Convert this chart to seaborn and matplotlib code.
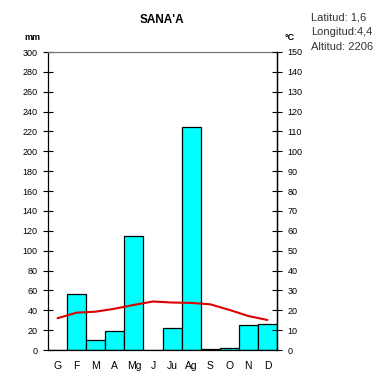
import matplotlib
matplotlib.use("Agg")
import matplotlib.pyplot as plt
import seaborn as sns
import pandas as pd

months = ["G", "F", "M", "A", "Mg", "J", "Ju", "Ag", "S", "O", "N", "D"]
precip_mm = [0, 56, 10, 19, 115, 0, 22, 224, 1, 2, 25, 26]
temp_c = [16, 18.8, 19.3, 20.8, 22.7, 24.4, 23.9, 23.7, 23, 20.2, 17.1, 15.1]
mm_ticks = list(range(0, 301, 20))
c_ticks = list(range(0, 151, 10))

sns.set_theme(style="white")
plt.rcParams["font.family"] = ["Liberation Sans", "DejaVu Sans"]
plt.rcParams["text.color"] = "black"
plt.rcParams["xtick.color"] = "black"
plt.rcParams["ytick.color"] = "black"
plt.rcParams["axes.labelcolor"] = "black"

df = pd.DataFrame({"mes": months, "mm": precip_mm, "t": temp_c, "pos": range(12)})

fig = plt.figure(figsize=(3.8, 3.82), dpi=100)
ax = fig.add_axes([48/380, 32/382, 229/380, 298/382])
sns.barplot(data=df, x="mes", y="mm", color="#00FFFF", edgecolor="black",
            linewidth=0.9, width=1.0, saturation=1, ax=ax)
ax.set_xlim(-0.5, 11.5)
ax.set_ylim(0, 300)
ax.set_yticks(mm_ticks)
ax.set_yticklabels([str(v) for v in mm_ticks], fontsize=6.5)
ax.set_xlabel("")
ax.set_ylabel("")
ax.set_xticks([i - 0.5 for i in range(13)])
ax.set_xticklabels([])
ax.set_xticks(range(12), minor=True)
ax.set_xticklabels(months, minor=True, fontsize=7.5)
ax.tick_params(axis="x", which="major", direction="out", length=4, width=0.8, color="black")
ax.tick_params(axis="x", which="minor", length=0, pad=8)
ax.tick_params(axis="y", direction="inout", length=7, width=0.8, color="black", pad=4)
for s in ax.spines.values():
    s.set_color("black")
    s.set_linewidth(0.9)
ax.spines["top"].set_color("#777777")

ax2 = ax.twinx()
sns.lineplot(data=df, x="pos", y="t", color="#DD0000", linewidth=1.5, ax=ax2)
ax2.set_ylim(0, 150)
ax2.set_xlim(-0.5, 11.5)
ax2.set_yticks(c_ticks)
ax2.set_yticklabels([str(v) for v in c_ticks], fontsize=6.5)
ax2.set_ylabel("")
ax2.set_xlabel("")
ax2.tick_params(axis="y", direction="inout", length=7, width=0.8, color="black", pad=4)
for s in ax2.spines.values():
    s.set_visible(False)
ax2.spines["right"].set_visible(True)
ax2.spines["right"].set_color("black")
ax2.spines["right"].set_linewidth(0.9)

fig.text(162/380, 1 - 20/382, "SANA'A", ha="center", va="center", fontsize=8.5, fontweight="bold", color="black")
fig.text(32/380, 1 - 37/382, "mm", ha="center", va="center", fontsize=6.5, fontweight="bold", color="black")
fig.text(290/380, 1 - 37/382, "°C", ha="center", va="center", fontsize=6.5, fontweight="bold", color="black")
info = ["Latitud: 1,6", "Longitud:4,4", "Altitud: 2206"]
for i, t in enumerate(info):
    fig.text(311/380, 1 - (17 + 15*i)/382, t, ha="left", va="center", fontsize=8, color="#333333")

fig.savefig("out.png", dpi=100)
